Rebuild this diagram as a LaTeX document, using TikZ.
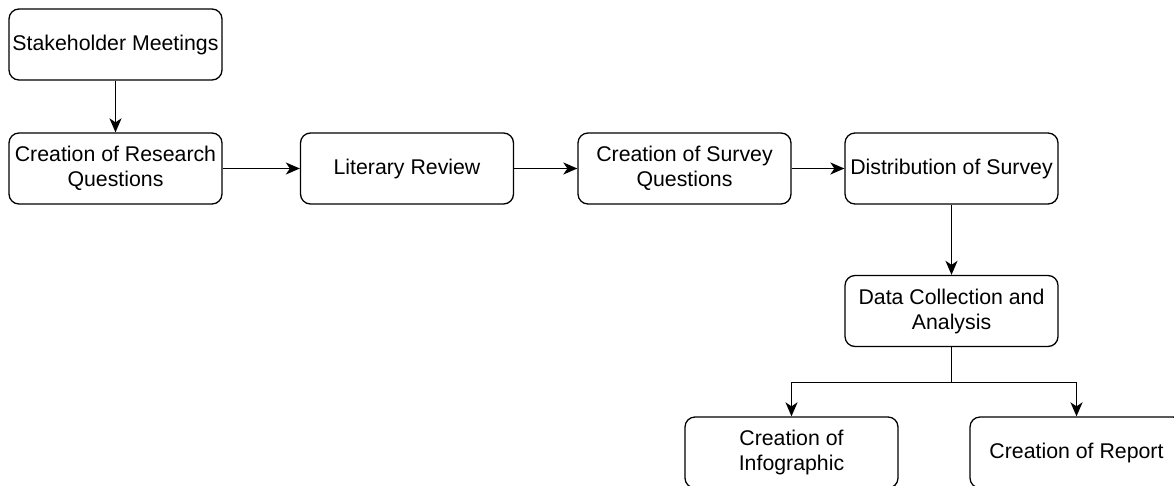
\documentclass[tikz,border=0pt]{standalone}
\usepackage{fontspec}
\setmainfont{Liberation Sans}
\usetikzlibrary{arrows.meta}

\tikzset{
    stepbox/.style={draw, line width=1.3pt, rounded corners=10pt, minimum width=213pt,
        minimum height=71pt, align=center, inner sep=2pt,
        font=\fontsize{21.3}{25}\selectfont},
    flow/.style={-{Stealth[length=14pt,width=12pt,inset=4pt]}, line width=1.6pt}
}

\begin{document}
\begin{tikzpicture}[x=1pt,y=-1pt]
    \useasboundingbox (0,0) rectangle (1174,485);

    \node[stepbox] (stake) at (115.5,44.5) {Stakeholder Meetings};
    \node[stepbox] (research) at (115.5,168.5) {Creation of Research\\Questions};
    \node[stepbox] (review) at (407,168.5) {Literary Review};
    \node[stepbox] (survey) at (684.5,168.5) {Creation of Survey\\Questions};
    \node[stepbox] (distrib) at (951.5,168.5) {Distribution of Survey};
    \node[stepbox] (data) at (951.5,311) {Data Collection and\\Analysis};
    \node[stepbox] (infog) at (791.5,452.5) {Creation of\\Infographic};
    \node[stepbox] (report) at (1076.5,452.5) {Creation of Report};

    \draw[flow] (stake) -- (research);
    \draw[flow] (research) -- (review);
    \draw[flow] (review) -- (survey);
    \draw[flow] (survey) -- (distrib);
    \draw[flow] (distrib) -- (data);
    % split to the two outputs
    \coordinate (split) at ([yshift=-35.5pt]data.south);
    \draw[flow] (data.south) -- (split) -| (infog.north);
    \draw[flow] (split) -| (report.north);
\end{tikzpicture}
\end{document}
